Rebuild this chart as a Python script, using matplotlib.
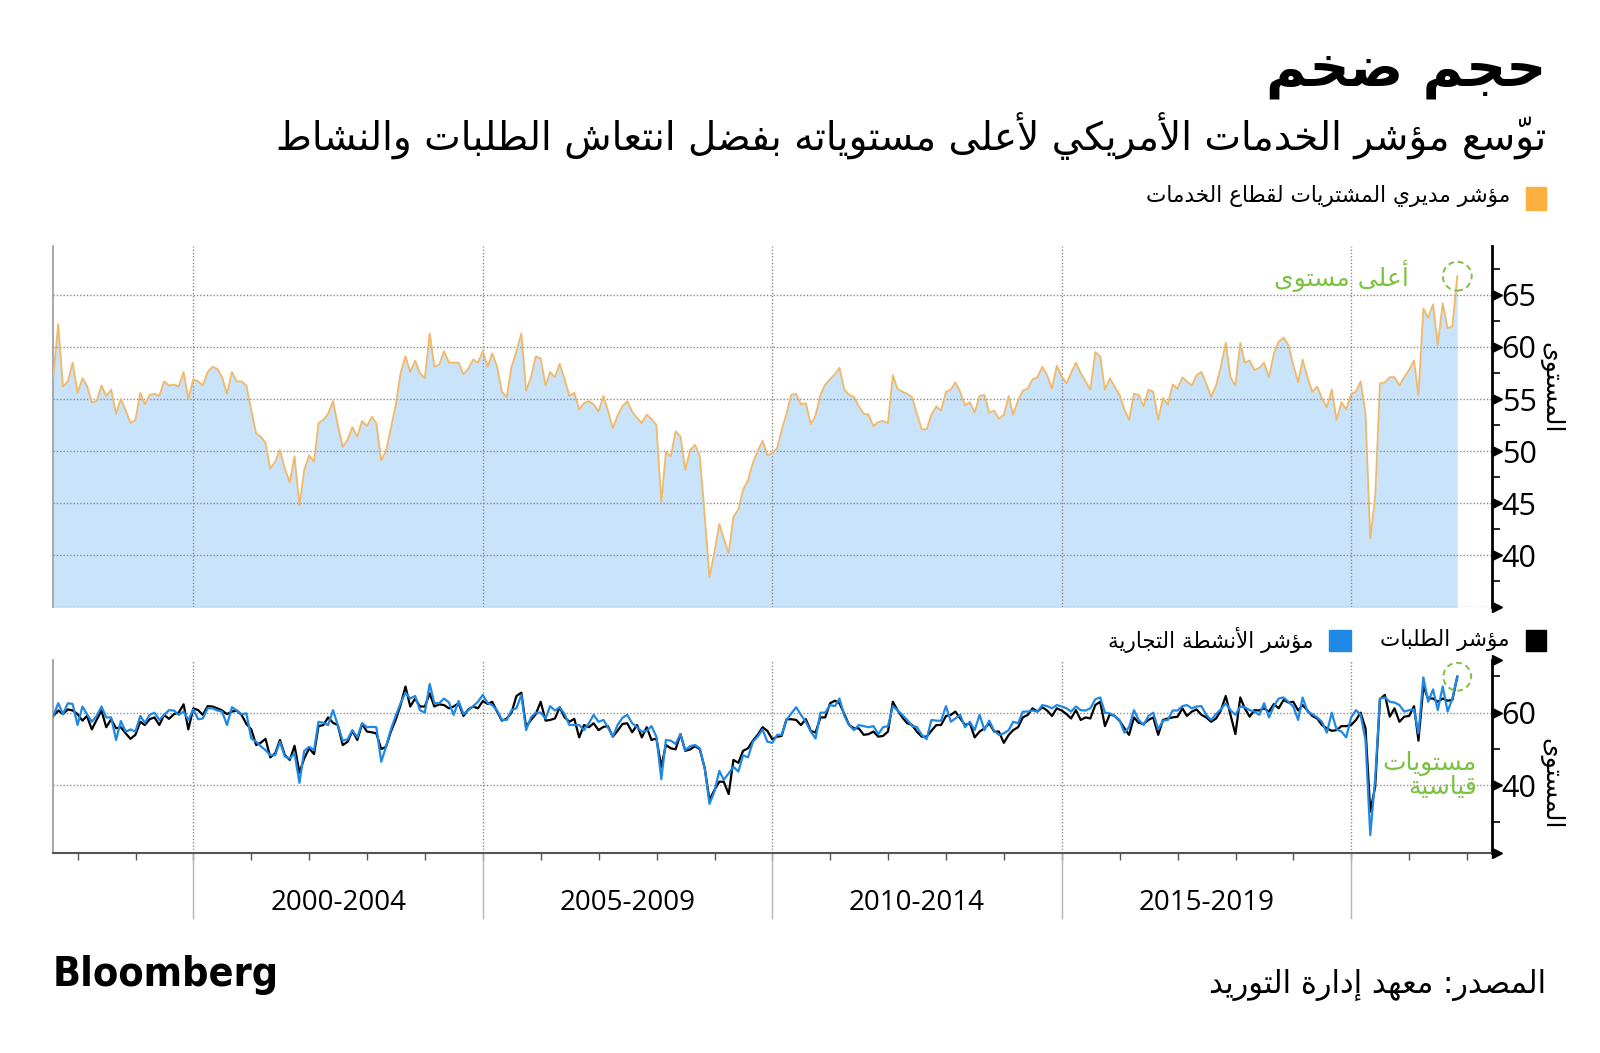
import numpy as np
import pandas as pd
import matplotlib
matplotlib.use('Agg')
import matplotlib.pyplot as plt
import matplotlib.transforms as mtransforms
from matplotlib.patches import Rectangle

W, H = 1600, 1053

# monthly readings, Jul 1997 - Oct 2021
dates = pd.date_range('1997-07-31', periods=292, freq='ME')

services_pmi = [
    57.1, 62.2, 56.2, 56.7, 58.5, 55.6, 57.0, 56.3, 54.7, 54.8,
    56.3, 55.3, 55.9, 53.6, 55.0, 53.9, 52.7, 53.0, 55.6, 54.5,
    55.4, 55.5, 55.3, 56.7, 56.3, 56.4, 56.2, 57.6, 55.0, 56.9,
    56.7, 56.3, 57.6, 58.1, 57.9, 57.1, 55.5, 57.6, 56.7, 56.7,
    56.3, 53.9, 51.7, 51.4, 50.8, 48.3, 49.0, 50.1, 48.3, 47.0,
    49.5, 44.8, 48.2, 49.6, 49.0, 52.7, 53.0, 53.6, 54.8, 52.5,
    50.4, 51.1,
    52.3, 51.4, 52.9, 52.4, 53.3, 52.7, 49.1, 50.0, 52.2, 54.4,
    57.5, 59.1, 57.6, 58.7, 57.5, 57.0, 61.3, 58.1, 58.3, 59.6,
    58.5, 58.5, 58.5, 57.4, 57.9, 58.8, 58.5, 59.6, 58.1, 59.4,
    58.1, 55.7, 55.2, 58.1, 59.6, 61.3, 55.8, 57.1, 59.1, 58.9,
    56.3, 57.6, 57.1, 58.4, 56.9, 55.3, 55.6, 54.0, 54.6, 54.8,
    54.5, 53.8, 55.3, 53.9, 52.2, 53.4, 54.3, 54.8, 53.8, 53.2,
    52.7, 53.5, 53.1, 52.5, 45.1, 49.9, 49.5, 51.9, 51.4, 48.2,
    50.1, 50.6, 49.5, 43.8, 37.9, 40.3, 43.0, 41.6, 40.2, 43.7,
    44.4, 46.3, 47.2, 48.9, 50.0, 51.0, 49.6, 49.8, 50.3, 52.0,
    53.6, 55.4, 55.5, 54.5, 54.6, 52.6, 53.4, 55.4, 56.4, 56.9,
    57.4, 58.0, 55.9, 55.4, 55.2, 54.3, 53.6, 53.5, 52.4, 52.8,
    52.9, 52.7, 57.3, 56.0, 55.7, 55.5, 55.2, 53.6, 52.1, 52.1,
    53.5, 54.3, 53.9, 55.7, 55.9, 56.6, 55.7, 54.4, 54.7, 53.7,
    55.3, 55.4, 53.7, 53.9, 53.1, 53.5, 55.3, 53.5, 54.9, 55.8,
    56.0, 56.9, 57.1, 58.1, 57.3, 56.0, 58.2, 57.2, 56.5, 57.5,
    58.5, 57.5, 56.7, 55.9, 59.5, 59.1, 55.9, 57.0, 56.2, 55.4,
    54.0, 53.0, 55.5, 55.4, 54.3, 55.9, 55.7, 53.0, 55.1, 54.5,
    56.4, 56.0, 57.1, 56.7, 56.3, 57.3, 57.6, 56.5, 55.2, 56.3,
    58.1,
    60.4, 57.1, 56.3, 60.4, 58.5, 58.7, 57.8, 58.0, 58.5, 57.1,
    59.4, 60.5, 60.9, 60.2, 58.3, 56.6, 58.8, 57.1, 55.7, 56.2,
    55.1, 54.2, 55.9, 53.0, 54.7, 54.0, 55.5, 55.7, 56.7, 53.6,
    41.6, 45.6, 56.5, 56.6, 57.1, 57.1, 56.3, 57.1, 57.8, 58.7,
    55.4, 63.7, 62.8, 64.1, 60.2, 64.2, 61.8, 62.0, 66.8,
]

business_activity = [
    59.1, 62.6, 59.6, 62.6, 62.4, 56.6, 61.7, 59.6, 57.5, 59.1,
    61.7, 58.7, 58.7, 52.5, 57.7, 54.8, 55.4, 54.8, 59.1, 57.2,
    59.4, 60.0, 58.0, 59.4, 60.7, 60.6, 59.4, 60.3, 58.0, 60.9,
    58.2, 58.4, 61.2, 61.2, 60.6, 60.3, 56.6, 61.5, 60.6, 59.6,
    59.8, 52.9, 52.0, 50.8, 49.7, 48.3, 48.3, 52.0, 47.9, 47.4,
    48.8, 40.7, 49.5, 50.6, 49.7, 57.5, 57.2, 56.6, 60.7, 56.6,
    52.3, 52.7, 55.2, 53.2, 57.1, 56.0, 56.1, 56.0, 46.5, 50.6,
    55.4, 59.1, 62.6, 65.5, 63.9, 64.6, 60.7, 60.0, 67.9, 62.6,
    62.6, 63.9, 62.8, 59.4, 63.2, 59.6, 60.7, 61.8, 63.0, 64.9,
    62.6, 62.1, 60.6, 58.0, 58.0, 60.7, 61.2, 64.9, 55.2,
    58.7, 60.0, 60.0, 58.4, 61.8, 60.6, 61.5, 59.6, 56.6, 56.6,
    56.6, 55.2, 57.1, 59.4, 57.5, 58.0, 56.0, 53.4, 56.6, 58.6,
    59.4, 57.1, 56.0, 54.8, 55.0, 56.3, 53.4, 41.7, 52.5, 52.3,
    51.4, 54.1, 49.7, 50.8, 51.1, 50.2, 44.7, 34.9, 38.3, 44.0,
    41.5, 43.3, 45.1, 43.8, 48.3, 47.7, 52.0, 53.4, 55.4, 52.0,
    51.7, 53.9, 53.9, 58.0, 59.8, 61.5, 59.4, 57.5, 54.8, 52.9,
    60.0, 60.0, 62.1, 61.8, 63.9, 59.1, 56.6, 55.2, 56.6, 56.3,
    56.0, 56.3, 54.1, 56.0, 56.3, 61.8, 60.7, 59.4, 58.0, 56.3,
    56.1, 53.9, 52.7, 58.0, 57.8, 57.8, 61.8, 57.5, 58.4, 59.4,
    56.0, 57.5, 55.2, 59.4, 55.2, 57.8, 55.0, 53.9,
    54.3, 55.2, 57.5, 57.1, 60.3, 60.3, 60.6, 60.3, 62.1, 61.8,
    61.2, 62.1, 61.7, 61.2, 60.3, 61.7, 60.7, 60.6, 61.2, 63.7,
    64.2, 60.0, 59.8, 59.1, 58.0, 54.5, 56.0, 60.7, 58.0, 56.6,
    59.1, 60.0, 55.4, 57.8, 58.0, 60.6, 60.6, 61.8, 62.1, 61.2,
    61.7, 61.8, 59.4, 58.0, 59.6, 60.9, 62.6, 60.7, 59.4, 61.7,
    61.5, 60.7, 60.3, 59.4, 62.6, 58.7, 61.8, 63.9, 64.2, 63.0,
    61.7, 58.0, 64.2, 60.3, 59.6, 58.7, 57.5, 54.5, 60.0, 55.4,
    54.8, 53.2, 58.7, 60.7, 59.4, 52.5, 26.3, 41.9, 63.9, 64.2,
    63.0, 62.8, 62.1, 60.3, 60.7, 60.9, 54.3, 69.7, 63.0, 66.4,
    60.7, 67.2, 60.3, 63.9, 69.9,
]

new_orders = [
    59.1, 60.6, 59.6, 60.9, 60.6, 59.6, 57.8, 59.1, 55.4, 58.0,
    60.6, 56.0, 58.2, 55.7, 56.0, 54.3, 52.8, 53.9, 57.5, 56.6,
    58.2, 58.7, 56.6, 59.4, 58.3, 59.6, 60.0, 62.3, 55.4, 61.2,
    60.7, 59.4, 61.8, 61.7, 61.2, 60.6, 59.6, 60.3, 60.6, 59.4,
    56.9, 55.4, 51.1, 51.7, 52.8, 47.7, 48.8, 52.5, 48.3, 47.0,
    50.9, 43.5, 47.4, 50.2, 48.6, 56.3, 56.6, 58.7, 57.2, 56.6,
    51.1, 52.0, 55.0, 52.5, 56.9, 54.8, 54.6, 54.3, 50.0, 50.6,
    54.8, 58.0, 62.1, 67.2, 61.7, 63.9, 61.7, 61.7, 65.3, 61.7,
    62.3, 62.1, 61.2, 61.7, 62.6, 59.1, 60.9, 61.7, 61.2, 63.2,
    62.4, 63.0, 60.3, 57.8, 58.4, 60.0, 64.6, 65.5, 56.1,
    58.0, 59.6, 63.0, 57.8, 58.0, 58.4, 61.5, 58.7, 57.5, 58.3,
    53.2, 56.6, 56.0, 57.1, 55.2, 56.1, 56.3, 53.4, 55.0, 56.9,
    57.1, 54.6, 56.6, 53.2, 56.0, 52.5, 52.9, 45.1, 51.1, 50.2,
    49.9, 54.1, 49.5, 49.9, 50.8, 49.9, 44.7, 36.0, 38.7, 41.0,
    41.0, 37.6, 47.0, 46.2, 49.5, 50.2, 52.3, 53.9, 56.0, 55.0,
    52.7, 53.4, 53.6, 58.2, 58.2, 58.0, 56.6, 58.2, 55.0, 54.5,
    58.7, 58.7, 62.6, 63.3, 62.6, 59.6, 56.6, 55.7, 55.7, 53.9,
    54.1, 54.8, 53.4, 53.6, 54.8, 63.0, 60.7, 58.7, 57.1, 56.6,
    54.8, 53.4, 53.4, 55.0, 56.6, 56.6, 59.1, 59.4, 60.3, 58.4,
    56.6, 57.1, 53.2, 54.8, 55.7, 57.1, 54.8, 54.8,
    51.7, 53.9, 55.2, 56.0, 58.7, 59.4, 61.2, 60.3, 61.5, 60.6,
    59.1, 61.2, 60.6, 59.6, 58.4, 60.7, 58.0, 58.7, 58.4, 62.1,
    63.0, 56.3, 59.6, 59.1, 57.8, 55.7, 53.9, 58.7, 57.2, 56.9,
    58.0, 58.7, 53.9, 58.0, 58.4, 58.7, 58.9, 61.2, 59.1, 60.3,
    60.9, 59.4, 58.7, 57.5, 58.4, 60.6, 64.6, 59.4, 54.1, 64.2,
    61.2, 58.9, 60.7, 60.6, 61.2, 60.3, 62.4, 61.2, 63.5, 62.8,
    63.0, 60.6, 62.1, 60.6, 59.1, 58.4, 56.6, 55.7, 55.0, 55.2,
    56.3, 56.3, 56.6, 58.0, 60.0, 55.7, 32.8, 39.6, 63.7, 64.9,
    58.9, 61.2, 57.5, 58.9, 59.1, 61.8, 52.3, 67.2, 63.9, 63.9,
    63.0, 63.9, 63.3, 63.5, 69.9,
]

period_labels = ['2000-2004', '2005-2009', '2010-2014', '2015-2019']
period_years = [2000, 2005, 2010, 2015, 2020]
top_labels = [40, 45, 50, 55, 60, 65]
top_major = [35, 40, 45, 50, 55, 60, 65]
top_minor = [37.5, 42.5, 47.5, 52.5, 57.5, 62.5, 67.5]
bot_labels = [40, 60]
bot_minor = [30, 50, 70]

# simple arabic shaping (presentation forms, reversed for LTR drawing)
_AR = {
    'ء': (0xFE80, 1), 'آ': (0xFE81, 2), 'أ': (0xFE83, 2), 'ؤ': (0xFE85, 2),
    'إ': (0xFE87, 2), 'ئ': (0xFE89, 4), 'ا': (0xFE8D, 2), 'ب': (0xFE8F, 4),
    'ة': (0xFE93, 2), 'ت': (0xFE95, 4), 'ث': (0xFE99, 4), 'ج': (0xFE9D, 4),
    'ح': (0xFEA1, 4), 'خ': (0xFEA5, 4), 'د': (0xFEA9, 2), 'ذ': (0xFEAB, 2),
    'ر': (0xFEAD, 2), 'ز': (0xFEAF, 2), 'س': (0xFEB1, 4), 'ش': (0xFEB5, 4),
    'ص': (0xFEB9, 4), 'ض': (0xFEBD, 4), 'ط': (0xFEC1, 4), 'ظ': (0xFEC5, 4),
    'ع': (0xFEC9, 4), 'غ': (0xFECD, 4), 'ف': (0xFED1, 4), 'ق': (0xFED5, 4),
    'ك': (0xFED9, 4), 'ل': (0xFEDD, 4), 'م': (0xFEE1, 4), 'ن': (0xFEE5, 4),
    'ه': (0xFEE9, 4), 'و': (0xFEED, 2), 'ى': (0xFEEF, 2), 'ي': (0xFEF1, 4),
}
_LAMALEF = {'آ': 0xFEF5, 'أ': 0xFEF7, 'إ': 0xFEF9, 'ا': 0xFEFB}
_MARKS = set('\u064B\u064C\u064D\u064E\u064F\u0650\u0651\u0652')


def _shape_line(line):
    ch = list(line)
    n = len(ch)
    clusters = []
    k = 0
    while k < n:
        c = ch[k]
        if c in _AR:
            p = k - 1
            while p >= 0 and ch[p] in _MARKS:
                p -= 1
            joins_prev = p >= 0 and ch[p] in _AR and _AR[ch[p]][1] == 4
            j = k + 1
            while j < n and ch[j] in _MARKS:
                j += 1
            nxt = ch[j] if j < n else None
            marks = ''.join(ch[k + 1:j])
            if c == 'ل' and nxt in _LAMALEF:
                g = chr(_LAMALEF[nxt] + (1 if joins_prev else 0))
                k = j + 1
                while k < n and ch[k] in _MARKS:
                    marks += ch[k]
                    k += 1
                clusters.append(marks + g)
                continue
            base, nf = _AR[c]
            joins_next = nf == 4 and nxt in _AR
            if nf == 1:
                g = base
            elif joins_prev and joins_next:
                g = base + 3
            elif joins_prev:
                g = base + 1
            elif joins_next:
                g = base + 2
            else:
                g = base
            # mark placed before its letter in the reversed run
            clusters.append(marks + chr(g))
            k = j
        else:
            clusters.append(c)
            k += 1
    return ''.join(reversed(clusters))


def ar(text):
    return '\n'.join(_shape_line(l) for l in text.split('\n'))


def fx(px):
    return px / W


def fy(py):
    return 1 - py / H


plt.rcParams['font.family'] = ['DejaVu Sans']
NUMFONT = 'Open Sans'
GRID = '#8a8a8a'
GREEN = '#7cc242'
ORANGE = '#fbb040'
BLUE = '#1f88e5'

fig = plt.figure(figsize=(16, 10.53), dpi=100)

ax1 = fig.add_axes([fx(53.3), fy(607.3), (1492 - 53.3) / W, (607.3 - 246) / H])
ax2 = fig.add_axes([fx(53.3), fy(853.3), (1492 - 53.3) / W, (853.3 - 660) / H])

xmin, xmax = dates[0], pd.Timestamp('2022-06-07')
grid_dates = [pd.Timestamp(f'{y}-01-01') for y in period_years]

# ---- top panel ----
ax1.fill_between(dates, 0, services_pmi, color='#c9e3fa', lw=0, zorder=1)
ax1.plot(dates, services_pmi, color='#f0b868', lw=1.3, zorder=4)
ax1.set_xlim(xmin, xmax)
ax1.set_ylim(35, 69.7)
for v in top_major:
    ax1.axhline(v, color=GRID, lw=1, ls=(0, (1, 1.4)), zorder=2.5)
for d in grid_dates:
    ax1.axvline(d, color=GRID, lw=1, ls=(0, (1, 1.4)), zorder=2.5)

# ---- bottom panel ----
ax2.plot(dates, new_orders, color='black', lw=1.6, zorder=3)
ax2.plot(dates, business_activity, color=BLUE, lw=1.6, zorder=3)
ax2.set_xlim(xmin, xmax)
ax2.set_ylim(21.3, 74.5)
for v in bot_labels:
    ax2.axhline(v, color=GRID, lw=1, ls=(0, (1, 1.4)), zorder=0.5)
for d in grid_dates:
    ax2.axvline(d, color=GRID, lw=1, ls=(0, (1, 1.4)), zorder=0.5)

for ax, labels, major, minor in [(ax1, top_labels, top_major, top_minor),
                                 (ax2, bot_labels, bot_labels, bot_minor)]:
    ax.spines['top'].set_visible(False)
    ax.spines['left'].set_color('#9a9a9a')
    ax.spines['left'].set_linewidth(1.2)
    ax.spines['right'].set_color('black')
    ax.spines['right'].set_linewidth(2)
    ax.yaxis.tick_right()
    ax.set_yticks(labels)
    ax.set_yticks(minor, minor=True)
    ax.tick_params(axis='y', which='major', length=0, pad=7, labelsize=22)
    ax.tick_params(axis='y', which='minor', length=6, width=1.2, color='black',
                   direction='out')
    for t in ax.get_yticklabels():
        t.set_fontfamily(NUMFONT)
    trans = mtransforms.offset_copy(ax.get_yaxis_transform(), fig=fig, x=3.5, y=0,
                                    units='points')
    ax.plot([1] * len(major), major, ls='none', marker='>', ms=7, color='black',
            transform=trans, clip_on=False, zorder=5)

ax1.spines['bottom'].set_visible(False)
ax1.set_xticks([])

ax2.spines['bottom'].set_color('#555555')
ax2.spines['bottom'].set_linewidth(1.5)
ax2.set_xticks([pd.Timestamp(f'{y}-01-01') for y in range(1998, 2023)])
ax2.tick_params(axis='x', length=5, width=1, color='#555555', labelbottom=False)
tr_top = mtransforms.offset_copy(ax2.transAxes, fig=fig, x=3.5, y=0, units='points')
ax2.plot([1, 1], [1, 0], ls='none', marker='>', ms=7, color='black',
         transform=tr_top, clip_on=False, zorder=5)

# period separators and labels below the axis
sep = mtransforms.blended_transform_factory(ax2.transData, ax2.transAxes)
for d in grid_dates:
    ax2.plot([d, d], [0, -(918 - 853.3) / 193.3], color='#b5b5b5', lw=1,
             transform=sep, clip_on=False)
for lab, a, b in zip(period_labels, grid_dates[:-1], grid_dates[1:]):
    ax2.text(a + (b - a) / 2, -(903 - 853.3) / 193.3, lab, transform=sep,
             ha='center', va='center', fontsize=20, family=NUMFONT)

# record markers
ax1.scatter([dates[-1]], [services_pmi[-1]], s=430, facecolors='none',
            edgecolors=GREEN, linewidths=1.4, linestyles=(0, (3, 2)), zorder=6,
            clip_on=False)
ax1.annotate(ar('أعلى مستوى'), (dates[-1], services_pmi[-1]), xytext=(-35, 0),
             textcoords='offset points', ha='right', va='center', fontsize=18,
             color=GREEN)
ax2.scatter([dates[-1]], [business_activity[-1]], s=400, facecolors='none',
            edgecolors=GREEN, linewidths=1.4, linestyles=(0, (3, 2)), zorder=6,
            clip_on=False)
ax2.annotate(ar('مستويات\nقياسية'), (dates[-1], business_activity[-1]),
             xytext=(14, -71), textcoords='offset points', ha='right', va='center',
             multialignment='right', fontsize=18, color=GREEN, linespacing=0.95)

# axis titles
fig.text(fx(1551), fy(388), ar('المستوى'), rotation=-90, ha='center', va='center',
         fontsize=18)
fig.text(fx(1551), fy(784), ar('المستوى'), rotation=-90, ha='center', va='center',
         fontsize=18)

# headings
fig.text(fx(1546), fy(72), ar('حجم ضخم'), ha='right', va='center', fontsize=40,
         fontweight='bold')
fig.text(fx(1546), fy(136), ar('توّسع مؤشر الخدمات الأمريكي لأعلى مستوياته بفضل انتعاش الطلبات والنشاط'),
         ha='right', va='center', fontsize=28)

# legends
fig.add_artist(Rectangle((fx(1526), fy(210)), 20 / W, 23 / H, color=ORANGE,
                         transform=fig.transFigure))
fig.text(fx(1510), fy(196), ar('مؤشر مديري المشتريات لقطاع الخدمات'), ha='right',
         va='center', fontsize=15.6)
fig.add_artist(Rectangle((fx(1526), fy(651)), 20 / W, 21 / H, color='black',
                         transform=fig.transFigure))
fig.text(fx(1510), fy(640), ar('مؤشر الطلبات'), ha='right', va='center', fontsize=15.5)
fig.add_artist(Rectangle((fx(1329), fy(651)), 22 / W, 21 / H, color=BLUE,
                         transform=fig.transFigure))
fig.text(fx(1313), fy(640), ar('مؤشر الأنشطة التجارية'), ha='right', va='center',
         fontsize=15.5)

# footer
fig.text(fx(53), fy(975), 'Bloomberg', ha='left', va='center', fontsize=29.5,
         fontweight='bold', fontstretch='condensed')
fig.text(fx(1546), fy(985), ar('المصدر: معهد إدارة التوريد'), ha='right', va='center',
         fontsize=22)

fig.savefig('out.png', dpi=100)
